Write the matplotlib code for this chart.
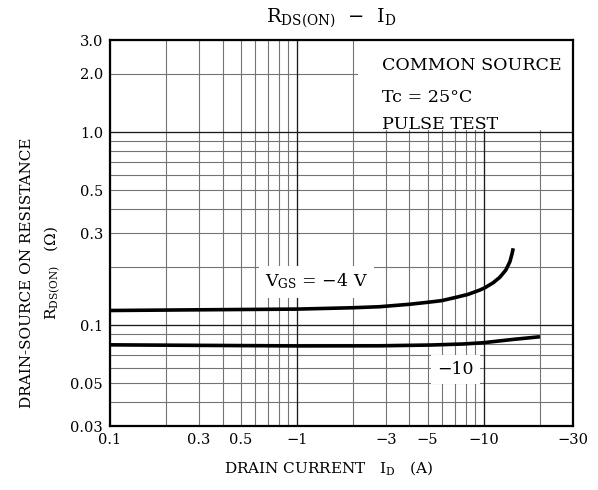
import matplotlib
matplotlib.use('Agg')
import numpy as np
import matplotlib.pyplot as plt
from matplotlib.ticker import FixedLocator, FixedFormatter, LogLocator, NullFormatter
from matplotlib.patches import Rectangle

# ---- data ----
x_ticks = [0.1, 0.3, 0.5, 1, 3, 5, 10, 30]
x_tick_labels = ['0.1', '0.3', '0.5', '\u22121', '\u22123', '\u22125', '\u221210', '\u221230']
y_ticks = [0.03, 0.05, 0.1, 0.3, 0.5, 1.0, 2.0, 3.0]
y_tick_labels = ['0.03', '0.05', '0.1', '0.3', '0.5', '1.0', '2.0', '3.0']

id_vgs4 = [0.1, 0.3, 1, 2, 2.77, 4.01, 5.03, 5.93, 7.14, 8.24, 9.52, 10.13,
           11.22, 12.18, 13.12, 13.79, 14.18, 14.36]
r_vgs4 = [0.119, 0.120, 0.121, 0.123, 0.1245, 0.1282, 0.1313, 0.1338, 0.1394, 0.1443,
          0.1519, 0.1561, 0.1657, 0.1769, 0.1930, 0.2131, 0.2356, 0.2500]

id_vgs10 = [0.1, 0.3, 1, 2.77, 5.13, 7.74, 9.91, 14.36, 19.97]
r_vgs10 = [0.0790, 0.0785, 0.0780, 0.0781, 0.0788, 0.0798, 0.0810, 0.0843, 0.0870]

plt.rcParams['font.family'] = ['DejaVu Serif']
plt.rcParams['mathtext.fontset'] = 'dejavuserif'

fig = plt.figure(figsize=(5.98, 4.90), dpi=100)
ax = fig.add_axes([110/598, 64/490, 463/598, 386/490])
ax.set_xscale('log')
ax.set_yscale('log')
ax.set_xlim(0.1, 30)
ax.set_ylim(0.03, 3.0)

for axis, ticks, labels in ((ax.xaxis, x_ticks, x_tick_labels), (ax.yaxis, y_ticks, y_tick_labels)):
    axis.set_major_locator(FixedLocator(ticks))
    axis.set_major_formatter(FixedFormatter(labels))
    axis.set_minor_locator(LogLocator(base=10, subs=np.arange(1, 10)))
    axis.set_minor_formatter(NullFormatter())
    axis.remove_overlapping_locs = False

ax.tick_params(which='both', length=0)
ax.tick_params(axis='x', pad=5, labelsize=10.5)
ax.tick_params(axis='y', pad=5, labelsize=10.5)
ax.set_axisbelow(True)
ax.grid(which='minor', color='0.45', linewidth=0.8)
ax.grid(which='major', visible=False)
for d in [1, 10]:
    ax.axvline(d, color='0.1', linewidth=0.9, zorder=0.6)
for d in [0.1, 1.0]:
    ax.axhline(d, color='0.1', linewidth=0.9, zorder=0.6)

for s in ax.spines.values():
    s.set_linewidth(1.6)
    s.set_zorder(5)

# white box for conditions
ax.add_patch(Rectangle((0.536, 0.767), 0.464, 0.233, transform=ax.transAxes,
                       facecolor='white', edgecolor='none', zorder=1))
ax.text(0.587, 0.935, 'COMMON SOURCE', transform=ax.transAxes, fontsize=12.6,
        va='center', ha='left', zorder=2)
ax.text(0.587, 0.852, 'Tc = 25\u00b0C', transform=ax.transAxes, fontsize=12.6,
        va='center', ha='left', zorder=2)
ax.text(0.587, 0.780, 'PULSE TEST', transform=ax.transAxes, fontsize=12.6,
        va='center', ha='left', zorder=2)

ax.plot(id_vgs4, r_vgs4, color='black', linewidth=2.6, zorder=3,
        solid_capstyle='butt', solid_joinstyle='round')
ax.plot(id_vgs10, r_vgs10, color='black', linewidth=2.6, zorder=3,
        solid_capstyle='butt', solid_joinstyle='round')

ax.text(1.27, 0.168, 'V$_{\\mathrm{GS}}$ = \u22124 V', fontsize=12.5,
        ha='center', va='center', zorder=4,
        bbox=dict(boxstyle='square,pad=0.35', facecolor='white', edgecolor='none'))
ax.text(7.08, 0.0586, '\u221210', fontsize=12.5, ha='center', va='center', zorder=4,
        bbox=dict(boxstyle='square,pad=0.35', facecolor='white', edgecolor='none'))

fig.text(331/598, 1 - 18/490, 'R$_{\\mathrm{DS(ON)}}$  \u2212  I$_{\\mathrm{D}}$',
         fontsize=14, ha='center', va='center')
fig.text(27/598, 1 - 273/490, 'DRAIN-SOURCE ON RESISTANCE', rotation=90, fontsize=11,
         ha='center', va='center')
fig.text(52/598, 1 - 273/490, 'R$_{\\mathrm{DS(ON)}}$   ($\\Omega$)', rotation=90, fontsize=11,
         ha='center', va='center')
fig.text(328/598, 1 - 468/490, 'DRAIN CURRENT   I$_{\\mathrm{D}}$   (A)', fontsize=11,
         ha='center', va='center')

fig.savefig('out.png', dpi=100)
